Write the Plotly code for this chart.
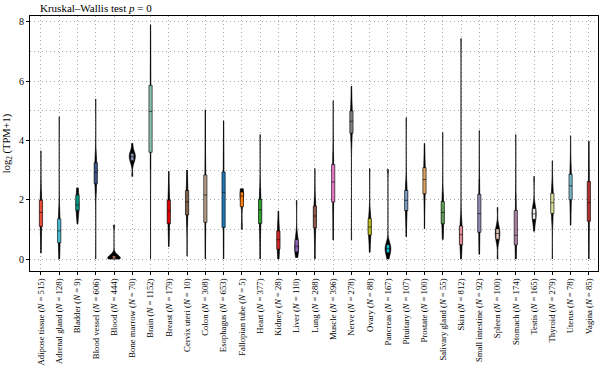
import plotly.graph_objects as go

# ---- data ----
tissues = ["Adipose tissue", "Adrenal gland", "Bladder", "Blood vessel", "Blood",
           "Bone marrow", "Brain", "Breast", "Cervix uteri", "Colon", "Esophagus",
           "Fallopian tube", "Heart", "Kidney", "Liver", "Lung", "Muscle", "Nerve",
           "Ovary", "Pancreas", "Pituitary", "Prostate", "Salivary gland", "Skin",
           "Small intestine", "Spleen", "Stomach", "Testis", "Thyroid", "Uterus", "Vagina"]
counts = [515, 128, 9, 606, 444, 70, 1152, 179, 10, 308, 653, 5, 377, 28, 110, 288,
          396, 278, 88, 167, 107, 100, 55, 812, 92, 100, 174, 165, 279, 78, 85]

# approximate distribution quantiles (log2(TPM+1))
quantile_values = [
    [0.2, 0.85, 1.05, 1.25, 1.42, 1.57, 1.72, 1.87, 2.02, 2.3, 3.65],   # Adipose
    [0.0, 0.3, 0.5, 0.68, 0.82, 0.95, 1.08, 1.22, 1.4, 1.75, 4.8],       # Adrenal
    [1.19, 1.5, 1.62, 1.7, 1.78, 1.82, 1.9, 2.05, 2.2, 2.3, 2.4],        # Bladder
    [0.0, 2.2, 2.5, 2.65, 2.8, 2.93, 3.05, 3.15, 3.28, 3.5, 5.4],        # Blood vessel
    [0.0, 0.0, 0.0, 0.01, 0.02, 0.04, 0.06, 0.08, 0.11, 0.18, 1.14],     # Blood
    [2.79, 3.2, 3.3, 3.36, 3.41, 3.45, 3.49, 3.53, 3.58, 3.65, 3.9],     # Bone marrow
    [0.0, 3.0, 3.5, 3.9, 4.5, 4.98, 5.3, 5.6, 5.95, 6.5, 7.9],           # Brain
    [0.42, 0.95, 1.15, 1.32, 1.48, 1.62, 1.75, 1.88, 2.02, 2.25, 2.96],  # Breast
    [0.1, 1.1, 1.45, 1.6, 1.8, 1.93, 2.05, 2.2, 2.35, 2.6, 3.0],         # Cervix uteri
    [0.0, 0.9, 1.15, 1.5, 1.9, 2.16, 2.4, 2.65, 2.9, 3.3, 5.03],         # Colon
    [0.0, 0.7, 0.95, 1.4, 1.9, 2.25, 2.5, 2.75, 3.0, 3.35, 4.66],        # Esophagus
    [1.0, 2.02, 2.12, 2.22, 2.37],                                       # Fallopian tube
    [0.0, 0.9, 1.15, 1.35, 1.52, 1.66, 1.78, 1.9, 2.05, 2.4, 4.2],       # Heart
    [0.0, 0.15, 0.3, 0.42, 0.55, 0.65, 0.75, 0.85, 0.98, 1.15, 1.62],    # Kidney
    [0.05, 0.15, 0.22, 0.3, 0.37, 0.43, 0.5, 0.58, 0.68, 0.85, 1.97],    # Liver
    [0.0, 0.75, 1.0, 1.2, 1.35, 1.45, 1.55, 1.68, 1.82, 2.05, 3.05],     # Lung
    [0.64, 1.5, 1.85, 2.15, 2.4, 2.6, 2.8, 3.0, 3.25, 3.6, 5.34],        # Muscle
    [0.64, 4.0, 4.2, 4.38, 4.52, 4.65, 4.78, 4.9, 5.03, 5.25, 5.83],     # Nerve
    [0.23, 0.6, 0.78, 0.9, 1.0, 1.08, 1.16, 1.26, 1.4, 1.6, 3.05],       # Ovary
    [0.0, 0.12, 0.2, 0.26, 0.31, 0.35, 0.39, 0.44, 0.5, 0.6, 3.02],      # Pancreas
    [0.75, 1.35, 1.6, 1.75, 1.88, 1.98, 2.08, 2.2, 2.35, 2.6, 4.77],     # Pituitary
    [1.02, 1.9, 2.15, 2.35, 2.52, 2.68, 2.82, 2.97, 3.12, 3.35, 3.9],    # Prostate
    [0.66, 1.0, 1.15, 1.3, 1.45, 1.57, 1.68, 1.82, 1.98, 2.25, 4.27],    # Salivary gland
    [0.0, 0.3, 0.45, 0.58, 0.7, 0.82, 0.92, 1.02, 1.15, 1.4, 7.44],      # Skin
    [0.16, 0.6, 0.85, 1.05, 1.3, 1.53, 1.75, 1.98, 2.25, 2.7, 4.34],     # Small intestine
    [0.0, 0.55, 0.65, 0.73, 0.8, 0.86, 0.91, 0.97, 1.03, 1.12, 1.74],    # Spleen
    [0.0, 0.3, 0.45, 0.55, 0.68, 0.8, 1.0, 1.3, 1.75, 2.2, 4.2],         # Stomach
    [0.94, 1.2, 1.32, 1.4, 1.47, 1.52, 1.58, 1.64, 1.72, 1.85, 2.78],    # Testis
    [0.0, 1.25, 1.5, 1.65, 1.8, 1.9, 2.0, 2.12, 2.25, 2.5, 3.31],        # Thyroid
    [1.14, 1.7, 1.95, 2.15, 2.32, 2.47, 2.6, 2.75, 2.9, 3.15, 4.16],     # Uterus
    [0.0, 0.9, 1.2, 1.5, 1.75, 1.9, 2.1, 2.35, 2.7, 3.1, 3.98],          # Vagina
]

y_ticks = [0, 2, 4, 6, 8]
title_text = "Kruskal\u2013Wallis test <i>p</i> = 0"

# ---- styles ----
box_colors = ["#E64B35", "#4DBBD5", "#00A087", "#3C5488", "#F39B7F", "#8491B4", "#86BFAF",
              "#DC0000", "#7E6148", "#B09C85",
              "#1F77B4", "#FF7F0E", "#2CA02C", "#D62728", "#9467BD", "#8C564B", "#E377C2",
              "#7F7F7F", "#BCBD22", "#17BECF",
              "#7C9CC4", "#D9A060", "#5E9E55", "#E08C96", "#9287AE", "#E8C8B8", "#A9819F",
              "#ECECEC", "#D8DC98", "#74B4C4", "#B03030"]
# kernel bandwidth overrides (None = Silverman default)
bandwidths = {"Blood": 0.085}

FONT = "Liberation Serif, Times New Roman, serif"
GRID = "#a8a8a8"

labels = [f"{t} (<i>N</i> = {n})" for t, n in zip(tissues, counts)]

fig = go.Figure()
for t, lab, vals, col in zip(tissues, labels, quantile_values, box_colors):
    fig.add_trace(go.Violin(
        x=[lab] * len(vals), y=vals,
        scalegroup="all", scalemode="width", spanmode="hard",
        bandwidth=bandwidths.get(t),
        fillcolor="black", line=dict(color="black", width=0.6),
        points=False,
        box=dict(visible=True, width=0.26, fillcolor=col,
                 line=dict(color="black", width=0.6)),
        meanline=dict(visible=False),
        showlegend=False, hoverinfo="skip",
    ))

fig.update_layout(
    width=600, height=380,
    margin=dict(l=30, r=2, t=16, b=109, autoexpand=False),
    paper_bgcolor="white", plot_bgcolor="white",
    violinmode="overlay", violingap=0.02,
    font=dict(family=FONT, size=10, color="black"),
    title=dict(text=title_text, x=40 / 600, xanchor="left", xref="container",
               y=1 - 8 / 380, yanchor="middle", yref="container",
               font=dict(family=FONT, size=11, color="black")),
    xaxis=dict(type="category", categoryorder="array", categoryarray=labels,
               range=[-0.6, 30.5], tickangle=-90, tickfont=dict(size=8.7),
               automargin=False,
               showline=True, linecolor="black", linewidth=1, mirror=True,
               ticks="outside", ticklen=3, tickcolor="black",
               showgrid=True, gridcolor=GRID, gridwidth=0.8, griddash="1px,3px"),
    yaxis=dict(range=[-0.405, 8.2], tickvals=y_ticks, tickfont=dict(size=10),
               automargin=False,
               title=dict(text="log<sub>2</sub> (TPM+1)", font=dict(size=10.5), standoff=6),
               showline=True, linecolor="black", linewidth=1, mirror=True,
               ticks="outside", ticklen=3, tickcolor="black", zeroline=False,
               showgrid=True, gridcolor=GRID, gridwidth=0.8, griddash="1px,3px",
               minor=dict(dtick=1, showgrid=True, gridcolor=GRID, griddash="1px,3px",
                          gridwidth=0.8)),
)

fig.write_html("out.html", config={"displayModeBar": False},
               post_script="document.body.style.margin='0';")
